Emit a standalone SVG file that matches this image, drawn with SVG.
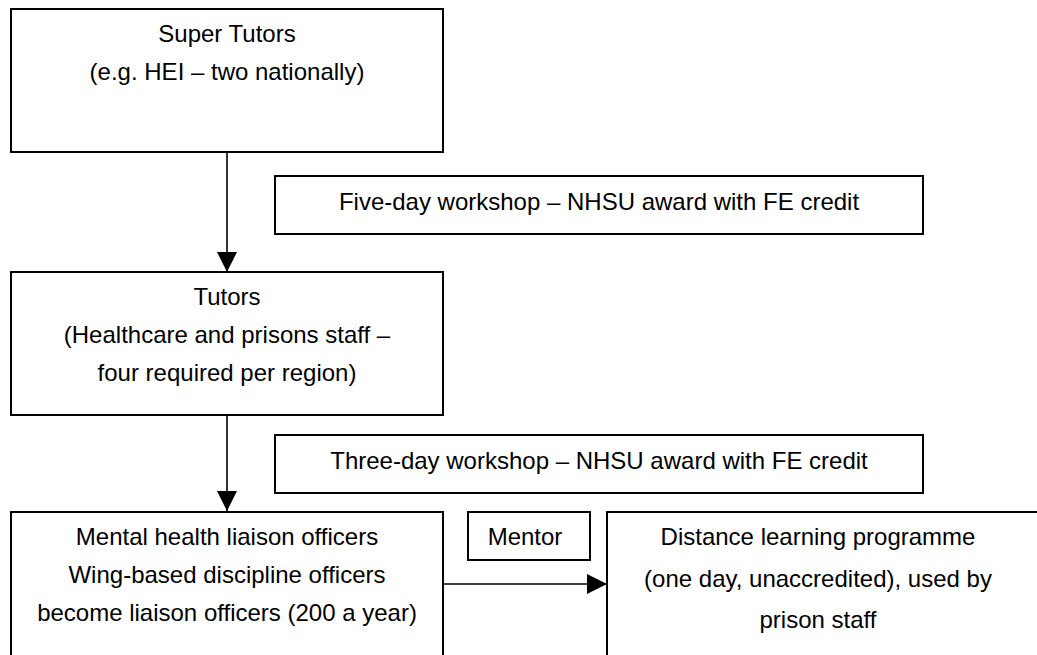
<svg xmlns="http://www.w3.org/2000/svg" width="1037" height="655" viewBox="0 0 1037 655">
<style>
.box{fill:#fff;stroke:#000;stroke-width:2}
.t{font-family:"Liberation Sans",Arial,sans-serif;font-size:24px;fill:#000;text-anchor:middle}
.c{fill:none;stroke:#000;stroke-width:1.6}
</style>
<defs>
<marker id="ah" markerUnits="userSpaceOnUse" markerWidth="20" markerHeight="20" refX="20" refY="10" orient="auto" viewBox="0 0 20 20">
<path d="M0,0 L20,10 L0,20 z" fill="#000"/>
</marker>
</defs>
<rect width="1037" height="655" fill="#fff"/>
<g id="super-tutors">
<rect class="box" x="11" y="9" width="432" height="143"/>
<text class="t" x="227" y="42">Super Tutors</text>
<text class="t" x="227" y="80">(e.g. HEI – two nationally)</text>
</g>
<g id="five-day">
<rect class="box" x="275" y="176" width="648" height="58"/>
<text class="t" x="599" y="210">Five-day workshop – NHSU award with FE credit</text>
</g>
<g id="tutors">
<rect class="box" x="11" y="272" width="432" height="143"/>
<text class="t" x="227" y="305">Tutors</text>
<text class="t" x="227" y="343">(Healthcare and prisons staff –</text>
<text class="t" x="227" y="381">four required per region)</text>
</g>
<g id="three-day">
<rect class="box" x="275" y="435" width="648" height="58"/>
<text class="t" x="599" y="469">Three-day workshop – NHSU award with FE credit</text>
</g>
<g id="liaison-officers">
<rect class="box" x="11" y="512" width="432" height="160"/>
<text class="t" x="227" y="545">Mental health liaison officers</text>
<text class="t" x="227" y="583">Wing-based discipline officers</text>
<text class="t" x="227" y="621">become liaison officers (200 a year)</text>
</g>
<g id="mentor">
<rect class="box" x="468" y="512" width="122" height="48"/>
<text class="t" x="525" y="545">Mentor</text>
</g>
<g id="distance-learning">
<rect class="box" x="607" y="512" width="440" height="160"/>
<text class="t" x="818" y="545">Distance learning programme</text>
<text class="t" x="818" y="587">(one day, unaccredited), used by</text>
<text class="t" x="818" y="628">prison staff</text>
</g>
<g id="connectors">
<line class="c" x1="227" y1="152" x2="227" y2="272" marker-end="url(#ah)"/>
<line class="c" x1="227" y1="415" x2="227" y2="511" marker-end="url(#ah)"/>
<line class="c" x1="443" y1="584" x2="607" y2="584" marker-end="url(#ah)"/>
</g>
</svg>
